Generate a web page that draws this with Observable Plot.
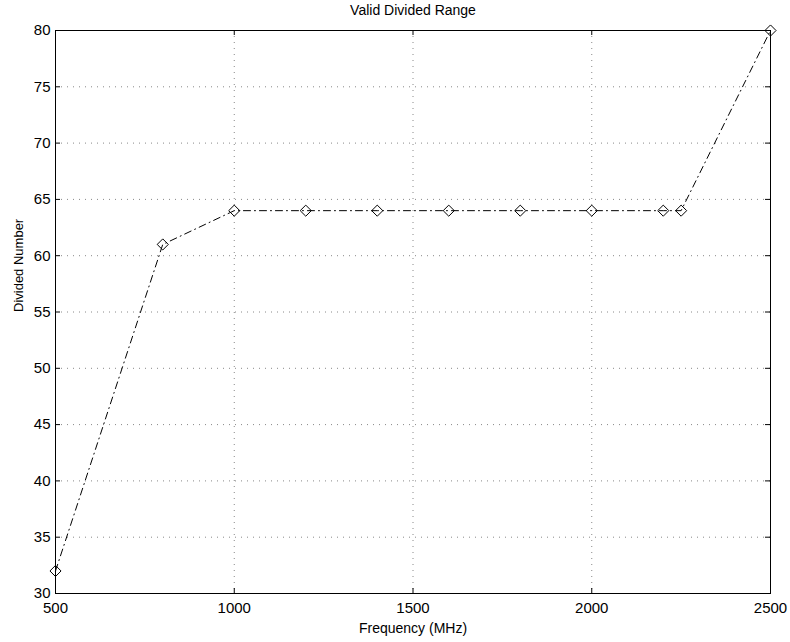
<!DOCTYPE html>
<html>
<head>
<meta charset="utf-8">
<script src="https://cdn.jsdelivr.net/npm/d3@7"></script>
<script src="https://cdn.jsdelivr.net/npm/@observablehq/plot@0.6"></script>
<style>
  html, body { margin: 0; padding: 0; background: #fff; }
  #chart svg { display: block; }
</style>
</head>
<body>
<div id="chart"></div>
<script>
const frequency = [500, 800, 1000, 1200, 1400, 1600, 1800, 2000, 2200, 2250, 2500];
const dividedNumber = [32, 61, 64, 64, 64, 64, 64, 64, 64, 64, 80];
const xTicks = [500, 1000, 1500, 2000, 2500];
const yTicks = [30, 35, 40, 45, 50, 55, 60, 65, 70, 75, 80];
const titleText = "Valid Divided Range";
const xLabel = "Frequency (MHz)";
const yLabel = "Divided Number";

const data = frequency.map((f, i) => ({f, n: dividedNumber[i]}));

const W = 790, H = 642, mL = 55, mR = 20, mT = 30, mB = 49;
const fw = W - mL - mR, fh = H - mT - mB, tk = 5;

const chart = Plot.plot({
  width: W,
  height: H,
  marginLeft: mL,
  marginRight: mR,
  marginTop: mT,
  marginBottom: mB,
  style: {fontFamily: "'Liberation Sans', Arial, Helvetica, sans-serif", fontSize: "13px", color: "#000", background: "#fff"},
  x: {domain: [500, 2500], ticks: xTicks},
  y: {domain: [30, 80], ticks: yTicks},
  marks: [
    Plot.gridX(xTicks, {stroke: "#888", strokeOpacity: 1, strokeDasharray: "1,5"}),
    Plot.gridY(yTicks, {stroke: "#888", strokeOpacity: 1, strokeDasharray: "1,5"}),
    Plot.ruleX(xTicks, {x: d => d, insetTop: fh - tk, stroke: "#000"}),
    Plot.ruleX(xTicks, {x: d => d, insetBottom: fh - tk, stroke: "#000"}),
    Plot.ruleY(yTicks, {y: d => d, insetRight: fw - tk, stroke: "#000"}),
    Plot.ruleY(yTicks, {y: d => d, insetLeft: fw - tk, stroke: "#000"}),
    Plot.axisX(xTicks, {anchor: "bottom", tickSize: 0, tickPadding: 9, tickFormat: "d", label: null, fill: "#000", fontSize: 15}),
    Plot.axisY(yTicks, {anchor: "left", tickSize: 0, tickPadding: 5, tickFormat: "d", label: null, fill: "#000", fontSize: 15}),
    Plot.frame({stroke: "#000", strokeWidth: 1}),
    Plot.line(data, {x: "f", y: "n", stroke: "#000", strokeWidth: 1, strokeDasharray: "7,4,1,4"}),
    Plot.dot(data, {x: "f", y: "n", symbol: "diamond2", r: 5, stroke: "#000", strokeWidth: 1, fill: "none"}),
    Plot.text([titleText], {frameAnchor: "top", dy: -20, lineAnchor: "middle", fill: "#000", fontSize: 14}),
    Plot.text([xLabel], {frameAnchor: "bottom", dy: 35, lineAnchor: "middle", fill: "#000", fontSize: 14}),
    Plot.text([yLabel], {frameAnchor: "left", dx: -37, rotate: -90, fill: "#000", fontSize: 13})
  ]
});
document.getElementById("chart").appendChild(chart);
</script>
</body>
</html>
